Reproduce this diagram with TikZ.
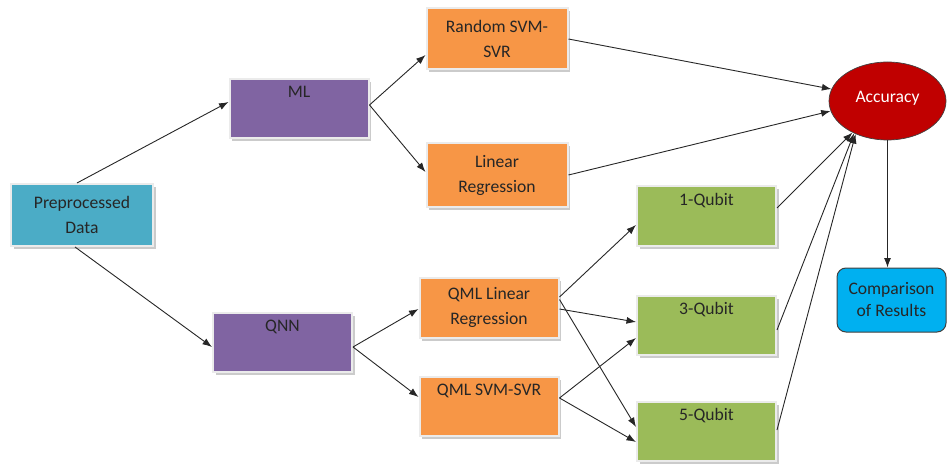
\documentclass[tikz,border=0pt]{standalone}
\usepackage{fontspec}
\setmainfont{Carlito}
\usetikzlibrary{shadows,arrows.meta,shapes.geometric}
\definecolor{tealc}{HTML}{4BACC6}
\definecolor{purc}{HTML}{8064A2}
\definecolor{orc}{HTML}{F79646}
\definecolor{grc}{HTML}{9BBB59}
\definecolor{redc}{HTML}{C00000}
\definecolor{bluec}{HTML}{00B0F0}
\definecolor{txt}{HTML}{262626}
\begin{document}
\begin{tikzpicture}[x=1pt,y=-1pt,
  txtfont/.style={font=\fontsize{17.6}{25}\selectfont},
  box/.style={rectangle, draw=white!92!black, line width=2pt, text=txt, txtfont, align=center, inner sep=0pt,
    drop shadow={shadow xshift=2.5pt, shadow yshift=-3pt, fill=black!45, opacity=0.45}},
  topbox/.style={box, minimum width=139pt, minimum height=59pt},
  toplbl/.style={label={[anchor=north, yshift=-8pt, txtfont, text=txt, inner sep=0pt]north:#1}},
  conn/.style={-{Latex[length=9.5pt,width=7pt]}, line width=0.9pt, black!85}
]
\useasboundingbox (0,0) rectangle (947,465);

% nodes
\node[box, fill=tealc, minimum width=142pt, minimum height=62pt] (prep) at (82,215) {Preprocessed\\Data};
\node[topbox, fill=purc, toplbl=ML] (ml) at (299,108.5) {};
\node[topbox, fill=purc, toplbl=QNN] (qnn) at (282.5,342.5) {};
\node[box, fill=orc, minimum width=141pt, minimum height=61pt] (rand) at (497,39) {Random SVM-\\SVR};
\node[box, fill=orc, minimum width=141pt, minimum height=63pt] (lin) at (497,175) {Linear\\Regression};
\node[box, fill=orc, minimum width=139pt, minimum height=60pt] (qlr) at (489,307.5) {QML Linear\\Regression};
\node[topbox, fill=orc, toplbl={QML SVM-SVR}] (qsvm) at (489,406.5) {};
\node[topbox, fill=grc, toplbl=1-Qubit] (q1) at (706.5,216) {};
\node[topbox, fill=grc, toplbl=3-Qubit] (q3) at (706.5,325) {};
\node[topbox, fill=grc, toplbl=5-Qubit] (q5) at (706.5,431) {};
\node[ellipse, fill=redc, draw=black!75, line width=0.7pt, minimum width=117pt, minimum height=78pt, inner sep=0pt,
  label={[txtfont, text=white, yshift=3pt, inner sep=0pt]center:Accuracy}] (acc) at (887.5,101) {};
\node[rectangle, rounded corners=9pt, fill=bluec, draw=black!75, line width=1pt, minimum width=109pt, minimum height=64pt,
  inner sep=0pt, align=center, text=txt, font=\fontsize{17.6}{22}\selectfont] (comp) at (891.5,300) {Comparison\\of Results};

% connectors
\draw[conn] ([xshift=-5pt]prep.north) -- ([yshift=6.5pt]ml.west);
\draw[conn] ([xshift=-7pt]prep.south) -- ([yshift=-4.5pt]qnn.west);
\draw[conn] ([yshift=3.5pt]ml.east) -- ([yshift=-16pt]rand.west);
\draw[conn] ([yshift=3.5pt]ml.east) -- ([yshift=3pt]lin.west);
\draw[conn] (rand.east) -- (acc.168);
\draw[conn] (lin.east) -- (acc.190);
\draw[conn] ([yshift=-4.5pt]qnn.east) -- ([yshift=-1.5pt]qlr.west);
\draw[conn] ([yshift=-4.5pt]qnn.east) -- ([yshift=9.5pt]qsvm.west);
\draw[conn] ([yshift=10.5pt]qlr.east) -- ([yshift=-9pt]q1.west);
\draw[conn] ([yshift=-1.5pt]qlr.east) -- ([yshift=3pt]q3.west);
\draw[conn] ([yshift=8pt]qlr.east) -- ([yshift=4pt]q5.west);
\draw[conn] ([yshift=8.5pt]qsvm.east) -- ([yshift=-13pt]q3.west);
\draw[conn] ([yshift=8.5pt]qsvm.east) -- ([yshift=-11pt]q5.west);
\draw[conn] ([yshift=8pt]q1.east) -- (acc.222);
\draw[conn] ([yshift=-5pt]q3.east) -- (acc.224);
\draw[conn] ([yshift=1pt]q5.east) -- (acc.226);
\draw[conn] (acc.south) -- (acc.south |- comp.north);
\end{tikzpicture}
\end{document}
